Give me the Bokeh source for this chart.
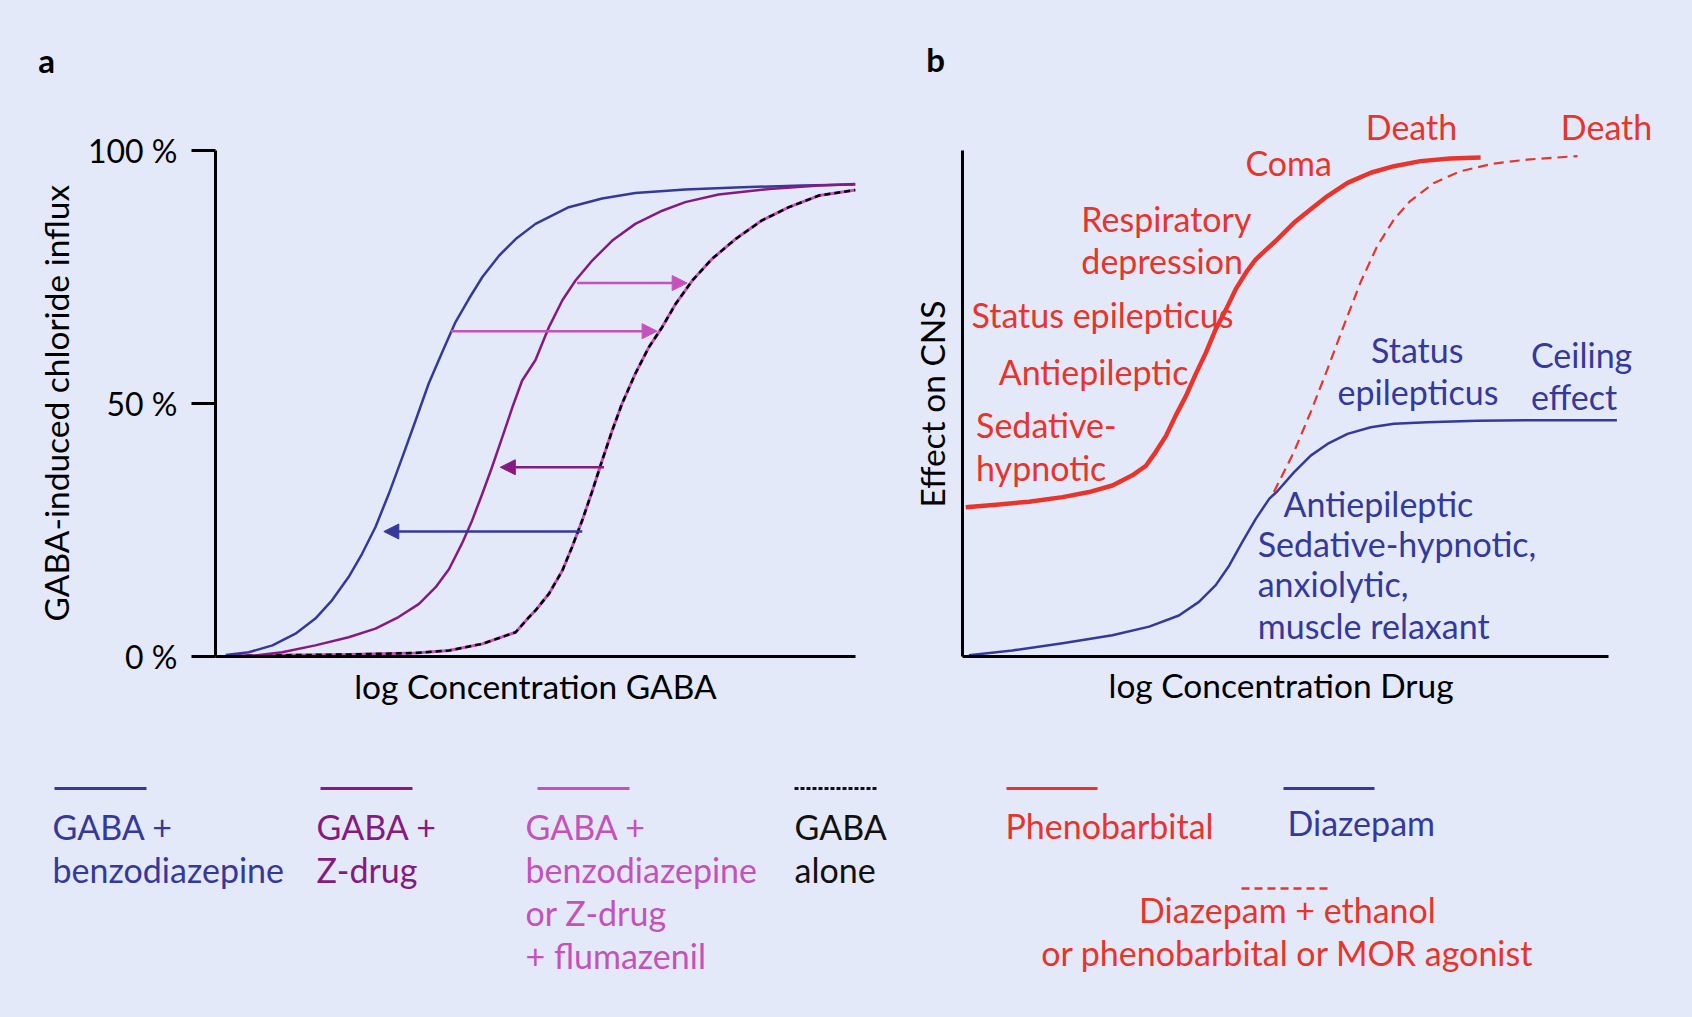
from bokeh.plotting import figure
from bokeh.models import (Range1d, FixedTicker, Arrow, NormalHead, Title,
                          GlobalInlineStyleSheet)
from bokeh.layouts import column, row
from bokeh.embed import file_html
from bokeh.resources import INLINE
from bokeh.core.properties import value

BG = "#E4E9FA"
BLUE = "#34399B"
PURPLE = "#861A80"
PINK = "#C452BA"
RED = "#E8342A"
BLACK = "#111111"
FONT = "Lato"
FS = "34px"

# ---------------- Panel a data (x: log concentration 0..1, y: % influx) -------------
a_benzo_x = [0.016, 0.052, 0.089, 0.125, 0.156, 0.182, 0.208, 0.229, 0.250, 0.271, 0.292,
             0.3125, 0.333, 0.354, 0.375, 0.396, 0.417, 0.443, 0.469, 0.500, 0.552, 0.604,
             0.656, 0.734, 0.8125, 0.917, 1.0]
a_benzo_y = [0.3, 0.85, 2.2, 4.5, 7.5, 11.1, 15.7, 20.3, 25.6, 32.2, 39.4,
             46.6, 53.9, 60.1, 66.1, 70.7, 75.0, 79.2, 82.5, 85.5, 88.8, 90.5,
             91.6, 92.3, 92.7, 93.1, 93.3]
a_zdrug_x = [0.016, 0.0625, 0.104, 0.156, 0.208, 0.250, 0.286, 0.318, 0.344, 0.365, 0.385,
             0.401, 0.417, 0.432, 0.448, 0.464, 0.479, 0.500, 0.521, 0.542, 0.5625, 0.589,
             0.620, 0.656, 0.698, 0.734, 0.786, 0.865, 0.943, 1.0]
a_zdrug_y = [0.05, 0.2, 0.85, 2.2, 3.8, 5.5, 7.8, 10.4, 13.7, 17.3, 22.3,
             26.9, 32.2, 37.4, 43.3, 49.3, 54.5, 58.6, 65.1, 70.4, 74.3, 78.3,
             82.2, 85.5, 88.1, 89.8, 91.3, 92.4, 93.1, 93.4]
a_gaba_x = [0.016, 0.0625, 0.208, 0.3125, 0.365, 0.417, 0.469, 0.490, 0.500, 0.521, 0.542,
            0.557, 0.573, 0.589, 0.604, 0.620, 0.635, 0.656, 0.677, 0.698, 0.719, 0.745,
            0.776, 0.8125, 0.854, 0.896, 0.943, 1.0]
a_gaba_y = [0.05, 0.2, 0.4, 0.7, 1.2, 2.5, 4.8, 7.8, 9.1, 12.4, 17.0,
            21.6, 26.9, 32.8, 38.7, 44.7, 49.9, 55.9, 61.1, 65.1, 69.7, 74.3,
            78.6, 82.5, 86.2, 88.8, 91.1, 92.2]
# flumazenil curve coincides with GABA alone
a_fluma_x = a_gaba_x
a_fluma_y = a_gaba_y

# arrows: y level, start x, end x, colour key
arrow_y = [73.8, 64.3, 37.4, 24.7]
arrow_x0 = [0.565, 0.368, 0.607, 0.573]
arrow_x1 = [0.737, 0.690, 0.445, 0.263]
arrow_col = ["pink", "pink", "purple", "blue"]

a_ticks = [0, 50, 100]
a_tick_labels = ["0 %", "50 %", "100 %"]

# ---------------- Panel b data ----------------
b_pheno_x = [0.005, 0.052, 0.103, 0.155, 0.196, 0.232, 0.263, 0.284, 0.299, 0.315, 0.330,
             0.346, 0.361, 0.377, 0.392, 0.408, 0.423, 0.439, 0.454, 0.487, 0.513, 0.539,
             0.565, 0.596, 0.632, 0.668, 0.709, 0.755, 0.802]
b_pheno_y = [29.5, 30.0, 30.6, 31.5, 32.5, 33.8, 35.8, 37.7, 40.4, 43.6, 47.6,
             51.5, 55.8, 60.1, 64.7, 68.6, 72.6, 75.9, 78.5, 82.4, 85.7, 88.4,
             91.0, 93.6, 95.6, 96.9, 97.9, 98.4, 98.6]
b_diaz_x = [0.010, 0.077, 0.155, 0.232, 0.289, 0.335, 0.366, 0.392, 0.413, 0.433, 0.454,
            0.475, 0.487, 0.513, 0.539, 0.565, 0.596, 0.632, 0.668, 0.719, 0.797, 0.900, 1.013]
b_diaz_y = [0.26, 1.2, 2.6, 4.2, 5.9, 8.1, 10.8, 14.1, 18.0, 22.6, 27.2,
            31.2, 32.6, 36.4, 39.7, 42.0, 44.0, 45.3, 46.0, 46.3, 46.6, 46.7, 46.7]
b_combo_x = [0.482, 0.513, 0.539, 0.565, 0.590, 0.616, 0.642, 0.668, 0.693, 0.730, 0.771,
             0.822, 0.874, 0.952]
b_combo_y = [32.5, 40.4, 48.3, 56.8, 65.3, 73.9, 81.1, 86.4, 90.0, 93.6, 95.9,
             97.4, 98.2, 98.9]

# annotations in panel b (x in data units, y = text baseline in data units)
red_left_text = ["Respiratory", "depression", "Status epilepticus", "Antiepileptic",
                 "Sedative-", "hypnotic"]
red_left_x = [0.184, 0.184, 0.014, 0.056, 0.021, 0.021]
red_left_y = [83.9, 75.7, 65.0, 53.8, 43.2, 34.8]
red_center_text = ["Death", "Death", "Coma"]
red_center_x = [0.695, 0.997, 0.505]
red_center_y = [102.2, 102.2, 95.0]
blue_left_text = ["Ceiling", "effect", "Antiepileptic", "Sedative-hypnotic,",
                  "anxiolytic,", "muscle relaxant"]
blue_left_x = [0.880, 0.880, 0.497, 0.457, 0.457, 0.457]
blue_left_y = [57.1, 48.9, 27.7, 19.8, 11.9, 3.5]
blue_center_text = ["Status", "epilepticus"]
blue_center_x = [0.704, 0.705]
blue_center_y = [58.2, 49.8]

# legend
legend_a_labels = [["GABA +", "benzodiazepine"], ["GABA +", "Z-drug"],
                   ["GABA +", "benzodiazepine", "or Z-drug", "+ flumazenil"],
                   ["GABA", "alone"]]
legend_a_colors = [BLUE, PURPLE, PINK, BLACK]
legend_a_dash = ["solid", "solid", "solid", "4 2"]
legend_b_labels = ["Phenobarbital", "Diazepam"]
legend_b_colors = [RED, BLUE]
legend_c_labels = ["Diazepam + ethanol", "or phenobarbital or MOR agonist"]
panel_letters = ["a", "b"]

colmap = {"pink": PINK, "purple": PURPLE, "blue": BLUE}
TXT_DY = 13  # px: text glyph baseline correction
PX_Y = 5.06  # px per % on both panels
FRAME_H = 556


def make_fig(w, h, l, r, t, b, xr, yr, axes=True):
    kw = {}
    if not axes:
        kw = dict(x_axis_type=None, y_axis_type=None)
    p = figure(width=w, height=h, x_range=xr, y_range=yr, output_backend="svg",
               toolbar_location=None, min_border_left=l, min_border_right=r,
               min_border_top=t, min_border_bottom=b, **kw)
    p.background_fill_color = BG
    p.border_fill_color = BG
    p.outline_line_color = None
    p.grid.visible = False
    return p


def style_axis(ax, label, standoff):
    ax.axis_line_width = 3
    ax.axis_line_color = "black"
    ax.axis_label = label
    ax.axis_label_text_font = FONT
    ax.axis_label_text_font_size = "33.5px"
    ax.axis_label_text_font_style = "normal"
    ax.axis_label_text_color = "black"
    ax.axis_label_standoff = standoff
    ax.minor_tick_line_color = None
    ax.major_tick_in = 0


def side_title(text, offset, standoff):
    # align="left" + offset: start of the text measured from the frame's start edge
    return Title(text=text, align="left", offset=offset, standoff=standoff,
                 text_font=FONT, text_font_size="33.5px", text_font_style="normal",
                 text_color="black")


# ---------------- top strip with panel letters ----------------
ps = make_fig(1676, 100, 0, 0, 0, 0, Range1d(0, 1676), Range1d(100, 0), axes=False)
ps.text(x=[46, 935], y=[72 - TXT_DY, 71 - TXT_DY], text=panel_letters, text_color="black",
        text_font=value(FONT), text_font_size="33px", text_font_style="bold",
        text_align="center", text_baseline="alphabetic")

# ---------------- Panel a ----------------
pa = make_fig(896, 640, 215, 41, 0, 84, Range1d(0, 1), Range1d(0, FRAME_H / PX_Y))
ya = pa.yaxis[0]
style_axis(ya, None, 5)
ya.bounds = (0, 100)
ya.ticker = FixedTicker(ticks=a_ticks)
ya.major_label_overrides = {t: s for t, s in zip(a_ticks, a_tick_labels)}
ya.major_tick_out = 24
ya.major_tick_line_width = 3
ya.major_label_standoff = 14
ya.major_label_text_font = FONT
ya.major_label_text_font_size = "32px"
ya.major_label_text_color = "black"
pa.add_layout(side_title("GABA-induced chloride influx", 35, 17), "left")
xa = pa.xaxis[0]
style_axis(xa, "log Concentration GABA", 9)
xa.ticker = FixedTicker(ticks=[])
xa.major_tick_out = 0

pa.line(a_fluma_x, a_fluma_y, line_color=PINK, line_width=3, line_join="round")
pa.line(a_gaba_x, a_gaba_y, line_color="black", line_width=2.5, line_dash="6 4",
        line_join="round")
pa.line(a_benzo_x, a_benzo_y, line_color=BLUE, line_width=2.5, line_join="round")
pa.line(a_zdrug_x, a_zdrug_y, line_color=PURPLE, line_width=2.5, line_join="round")

for yv, x0, x1, c in zip(arrow_y, arrow_x0, arrow_x1, arrow_col):
    col = colmap[c]
    pa.add_layout(Arrow(end=NormalHead(size=15, fill_color=col, line_color=col),
                        x_start=x0, y_start=yv, x_end=x1, y_end=yv,
                        line_color=col, line_width=2.5))

# ---------------- Panel b ----------------
PX_X = 646.0   # px per x unit
pb = make_fig(780, 640, 66, 24, 0, 84, Range1d(0, 690 / PX_X), Range1d(0, FRAME_H / PX_Y))
yb = pb.yaxis[0]
style_axis(yb, None, 12)
yb.ticker = FixedTicker(ticks=[])
yb.major_tick_out = 0
yb.bounds = (0, 100)
pb.add_layout(side_title("Effect on CNS", 149, 22), "left")
xb = pb.xaxis[0]
style_axis(xb, None, 9)
xb.ticker = FixedTicker(ticks=[])
xb.major_tick_out = 0
xb.bounds = (0, 1)
pb.add_layout(side_title("log Concentration Drug", 146, 12), "below")

pb.line(b_diaz_x, b_diaz_y, line_color=BLUE, line_width=2.5, line_join="round")
pb.line(b_combo_x, b_combo_y, line_color=RED, line_width=2.2, line_dash="10 6",
        line_join="round")
pb.line(b_pheno_x, b_pheno_y, line_color=RED, line_width=4.5, line_join="round")

dy = TXT_DY / PX_Y
for txt, xs, ys, col, align in [
        (red_left_text, red_left_x, red_left_y, RED, "left"),
        (red_center_text, red_center_x, red_center_y, RED, "center"),
        (blue_left_text, blue_left_x, blue_left_y, BLUE, "left"),
        (blue_center_text, blue_center_x, blue_center_y, BLUE, "center")]:
    pb.text(x=xs, y=[v + dy for v in ys], text=txt, text_color=col,
            text_font=value(FONT), text_font_size=FS, text_align=align,
            text_baseline="alphabetic")

# ---------------- Legend ----------------
pl = make_fig(1676, 261, 0, 0, 0, 0, Range1d(0, 1676), Range1d(1001, 740), axes=False)
leg_a_line_x = [(54, 146), (320, 412), (537, 629), (794, 877)]
leg_a_text_x = [52, 316, 525, 794]
line_y = 788
base_y = 839
step = 43
for labels, col, dash, (lx0, lx1), tx in zip(legend_a_labels, legend_a_colors, legend_a_dash,
                                              leg_a_line_x, leg_a_text_x):
    pl.segment(x0=[lx0], y0=[line_y], x1=[lx1], y1=[line_y], line_color=col,
               line_width=3, line_dash=dash)
    pl.text(x=[tx] * len(labels),
            y=[base_y + i * step - TXT_DY for i in range(len(labels))],
            text=labels, text_color=col, text_font=value(FONT), text_font_size=FS,
            text_baseline="alphabetic", text_align="left")

leg_b_line_x = [(1006, 1097), (1283, 1374)]
leg_b_text = [(1005, 838), (1287, 835)]
for lab, col, (lx0, lx1), (tx, ty) in zip(legend_b_labels, legend_b_colors, leg_b_line_x,
                                          leg_b_text):
    pl.segment(x0=[lx0], y0=[line_y], x1=[lx1], y1=[line_y], line_color=col, line_width=3)
    pl.text(x=[tx], y=[ty - TXT_DY], text=[lab], text_color=col, text_font=value(FONT),
            text_font_size=FS, text_baseline="alphabetic", text_align="left")

pl.segment(x0=[1241], y0=[888], x1=[1327], y1=[888], line_color=RED, line_width=2.5,
           line_dash="8 5")
pl.text(x=[1287, 1287], y=[922 - TXT_DY, 965 - TXT_DY], text=legend_c_labels,
        text_color=RED, text_font=value(FONT), text_font_size=FS,
        text_baseline="alphabetic", text_align="center")

page = column(ps, row(pa, pb), pl,
              stylesheets=[GlobalInlineStyleSheet(css="body{background:%s;}" % BG)])

open("out.html", "w").write(file_html(page, INLINE))
